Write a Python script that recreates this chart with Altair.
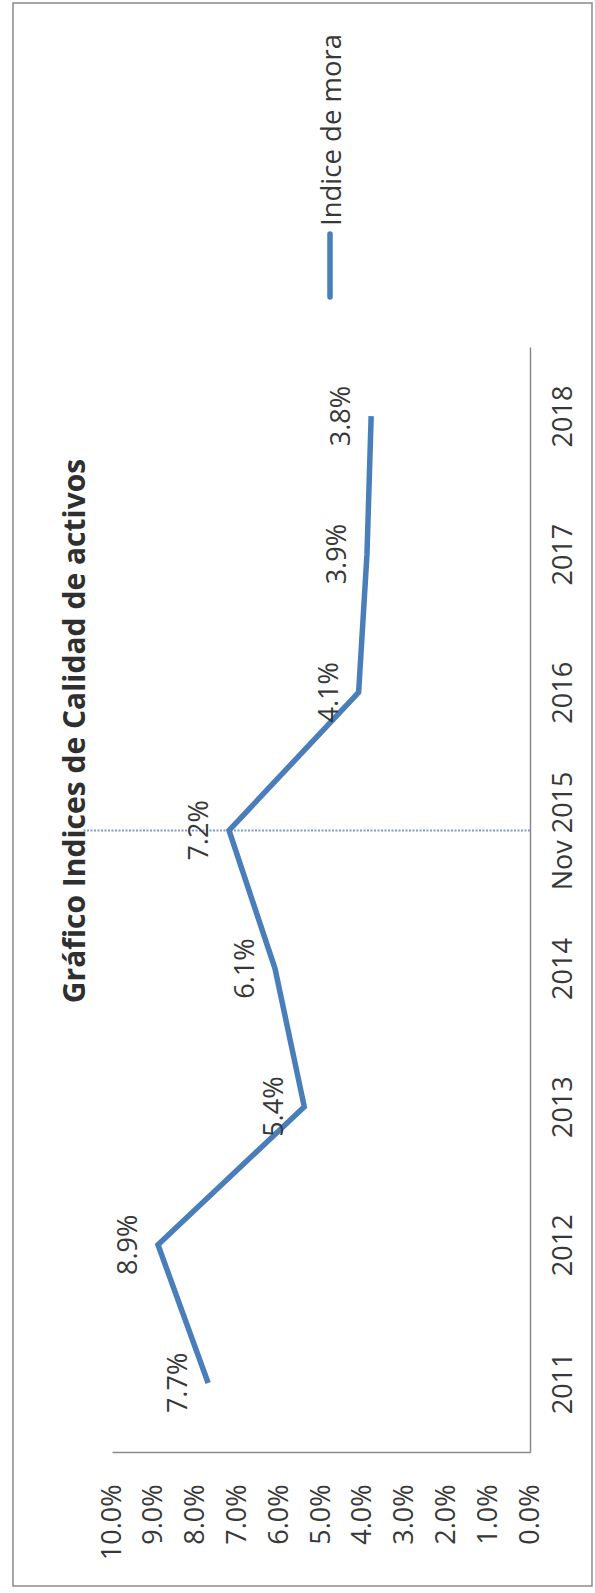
import altair as alt
import pandas as pd

# ---- data ----
categories = ["2011", "2012", "2013", "2014", "Nov 2015", "2016", "2017", "2018"]
indice_mora = [0.077, 0.089, 0.054, 0.061, 0.072, 0.041, 0.039, 0.038]
value_ticks = [0.0, 0.01, 0.02, 0.03, 0.04, 0.05, 0.06, 0.07, 0.08, 0.09, 0.10]
marker_category = ["Nov 2015"]
marker_start = [0.0]
marker_end = [0.107]
title_text = ["Gráfico Indices de Calidad de activos"]
legend_text = ["Indice de mora"]

FONT = "Open Sans"
TEXT = "#383838"
BLUE = "#4A7EBB"
GRAY = "#8a8a8a"

df = pd.DataFrame({"cat": categories, "val": indice_mora, "idx": list(range(len(categories)))})
marker_df = pd.DataFrame({"cat": marker_category, "x0": marker_start, "x1": marker_end})

y_scale = alt.Scale(type="point", domain=list(reversed(categories)), padding=0.5)
x_scale = alt.Scale(domain=[0, 0.10], reverse=True, nice=False)

x_axis = alt.Axis(
    orient="bottom", values=value_ticks, format=".1%", labelAngle=270,
    labelAlign="right", labelBaseline="middle", labelPadding=32,
    ticks=False, tickSize=0, grid=False, domainColor=GRAY, domainWidth=1.5,
    labelFont=FONT, labelFontSize=27, labelColor=TEXT, title=None,
)
y_axis = alt.Axis(
    orient="right", labelAngle=270, labelAlign="center", labelBaseline="top",
    labelPadding=20, ticks=False, tickSize=0, grid=False, domainColor=GRAY,
    domainWidth=1.5, labelFont=FONT, labelFontSize=27, labelColor=TEXT, title=None,
)

base = alt.Chart(df)

line = base.mark_line(color=BLUE, strokeWidth=5.5, strokeJoin="miter").encode(
    x=alt.X("val:Q", scale=x_scale, axis=x_axis),
    y=alt.Y("cat:N", scale=y_scale, axis=y_axis),
    order=alt.Order("idx:Q"),
)

labels = base.mark_text(
    angle=270, align="center", baseline="bottom", dy=-15,
    font=FONT, fontSize=27, color=TEXT,
).encode(
    x=alt.X("val:Q", scale=x_scale),
    y=alt.Y("cat:N", scale=y_scale),
    text=alt.Text("val:Q", format=".1%"),
)

marker = alt.Chart(marker_df).mark_rule(
    color="#7F9CC8", strokeWidth=2, strokeDash=[2, 1.5]
).encode(
    x=alt.X("x0:Q", scale=x_scale),
    x2="x1:Q",
    y=alt.Y("cat:N", scale=y_scale),
)

title = alt.Chart(pd.DataFrame({"t": title_text})).mark_text(
    angle=270, align="center", baseline="middle", font=FONT,
    fontSize=30, fontWeight="bold", color="#2f2f2f",
).encode(x=alt.value(-36), y=alt.value(384), text="t:N")

legend_line = alt.Chart(pd.DataFrame({"t": legend_text})).mark_rule(
    color=BLUE, strokeWidth=5.5, strokeCap="round"
).encode(x=alt.value(218), y=alt.value(-113), y2=alt.value(-50))

legend_label = alt.Chart(pd.DataFrame({"t": legend_text})).mark_text(
    angle=270, align="left", baseline="middle", font=FONT,
    fontSize=27.5, color=TEXT,
).encode(x=alt.value(221), y=alt.value(-121), text="t:N")

border = alt.Chart(pd.DataFrame({"t": [0]})).mark_rect(
    filled=False, stroke=GRAY, strokeWidth=1.5
).encode(
    x=alt.value(-99), x2=alt.value(480), y=alt.value(-344), y2=alt.value(1239)
)

chart = alt.layer(
    border, marker, line, labels, title, legend_line, legend_label
).properties(
    width=418,
    height=1105,
    autosize=alt.AutoSizeParams(type="none"),
    padding={"left": 112, "top": 347, "right": 65, "bottom": 141},
    background="white",
).configure_view(stroke=None)

chart.save("out.html", embed_options={"renderer": "svg", "actions": False})
